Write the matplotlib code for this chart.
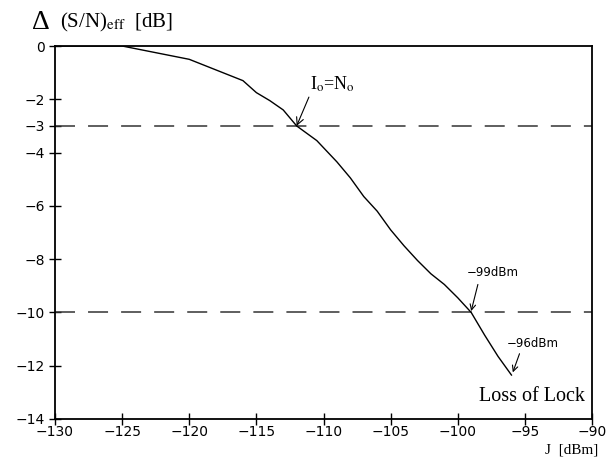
import matplotlib
matplotlib.use('Agg')
import matplotlib.pyplot as plt

# values
j_dbm = [-130, -125, -120, -116, -115, -114, -113, -112, -110.5, -109, -108,
         -107, -106, -105, -104, -103, -102, -101, -100, -99, -98, -97, -96]
delta_sn = [0, 0, -0.5, -1.3, -1.75, -2.05, -2.4, -3.0, -3.55, -4.35, -4.95,
            -5.65, -6.2, -6.9, -7.5, -8.05, -8.55, -8.95, -9.45, -10.0, -10.85,
            -11.65, -12.35]
ref_levels = [-3, -10]
x_ticks = [-130, -125, -120, -115, -110, -105, -100, -95, -90]
y_ticks = [0, -2, -3, -4, -6, -8, -10, -12, -14]

plt.rcParams['lines.scale_dashes'] = False
serif = ['Liberation Serif', 'DejaVu Serif']
plt.rcParams['mathtext.fontset'] = 'stix'

fig = plt.figure(figsize=(6.16, 4.57), dpi=100)
ax = fig.add_axes([55 / 616, 1 - 419 / 457, 537 / 616, 373 / 457])

for lev in ref_levels:
    ax.axhline(lev, color='#333333', lw=1.1, dashes=(14.4, 9.4))
ax.plot(j_dbm, delta_sn, color='black', lw=1.0)

ax.set_xlim(-130, -90)
ax.set_ylim(-14, 0)
ax.set_xticks(x_ticks)
ax.set_yticks(y_ticks)
ax.set_xticklabels([str(v).replace('-', '\u2212') for v in x_ticks])
ax.set_yticklabels([str(v).replace('-', '\u2212') for v in y_ticks])
ax.tick_params(direction='inout', length=9, width=1.0, labelsize=10, pad=1)
ax.tick_params(axis='x', pad=0)
ax.tick_params(axis='y', pad=3)
for s in ax.spines.values():
    s.set_linewidth(1.3)

# annotations
arr = dict(arrowstyle='->', lw=0.8, color='black', shrinkA=0, shrinkB=0)
ax.annotate(r'I$_{\rm o}$=N$_{\rm o}$', xy=(-112, -3.0), xytext=(-111.0, -1.45),
            fontsize=13, family=serif, va='center', ha='left',
            arrowprops=dict(arr, relpos=(0.0, 0.0)))
ax.annotate('\u221299dBm', xy=(-99, -9.95), xytext=(-97.4, -8.5),
            fontsize=8.5, va='center', ha='center')
ax.annotate('', xy=(-99, -9.95), xytext=(-98.5, -8.95), arrowprops=arr)
ax.annotate('\u221296dBm', xy=(-95.9, -12.25), xytext=(-94.4, -11.15),
            fontsize=8.5, va='center', ha='center')
ax.annotate('', xy=(-95.9, -12.25), xytext=(-95.4, -11.55), arrowprops=arr)
ax.text(-94.5, -13.15, 'Loss of Lock', fontsize=14.5, family=serif,
        ha='center', va='center')

fig.text(32 / 616, 1 - 29 / 457, '\u0394', fontsize=20, family=serif,
         va='baseline')
fig.text(60 / 616, 1 - 27 / 457, r'(S/N)$_{\rm eff}$  [dB]', fontsize=15,
         family=serif, va='baseline')
fig.text(598 / 616, 1 - 453 / 457, 'J  [dBm]', fontsize=11, family=serif,
         ha='right', va='baseline')

fig.savefig('out.png', dpi=100)
